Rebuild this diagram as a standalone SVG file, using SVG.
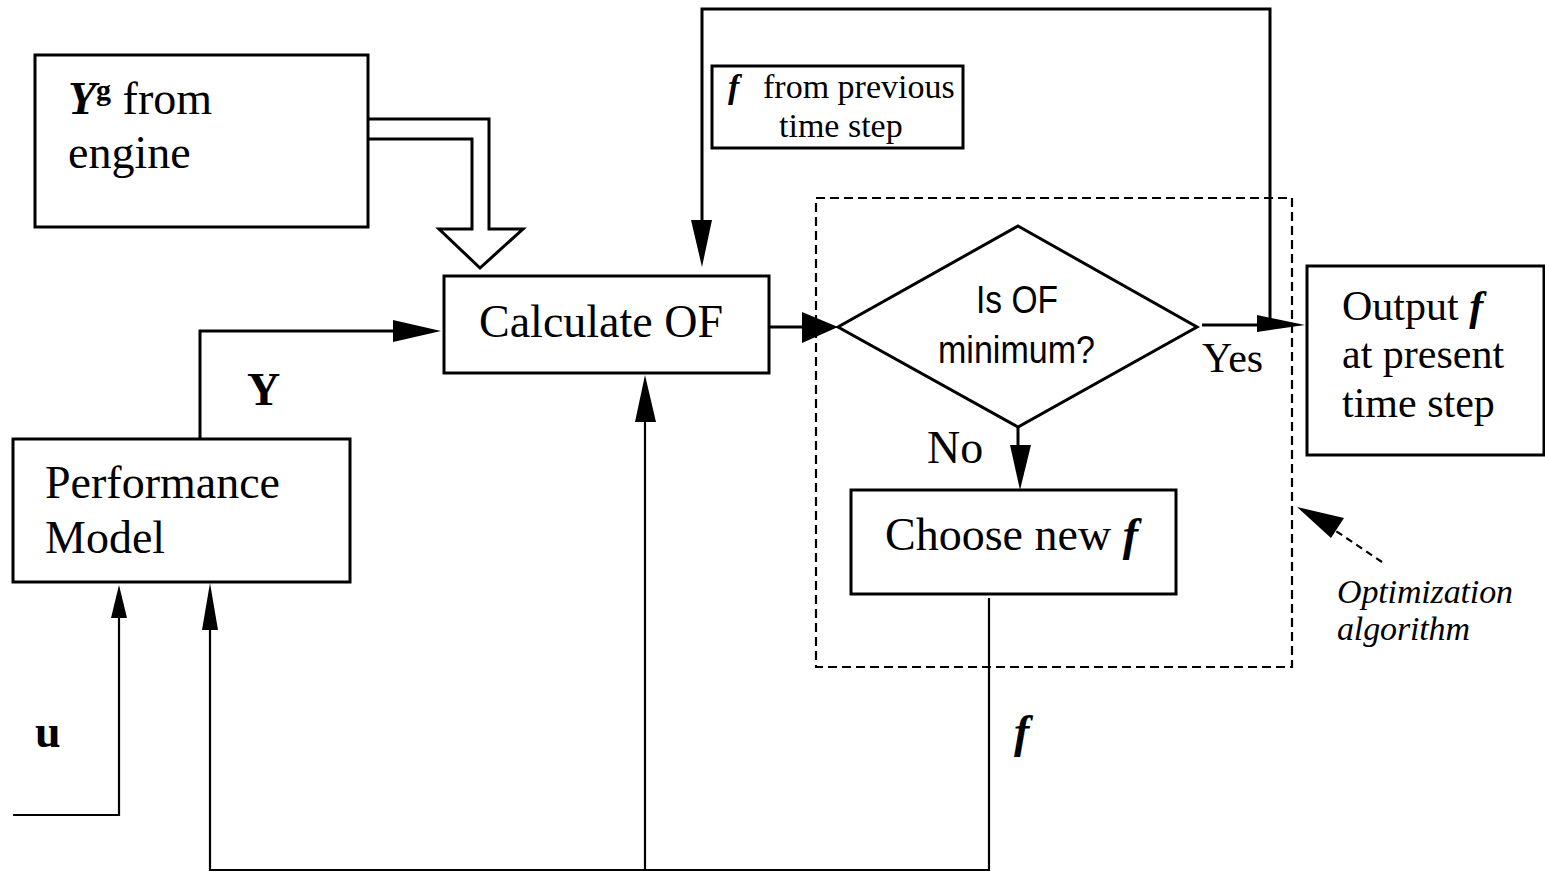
<svg xmlns="http://www.w3.org/2000/svg" width="1545" height="871" viewBox="0 0 1545 871">
<style>
  .box { fill: #fff; stroke: #000; stroke-width: 3; }
  .ln { fill: none; stroke: #000; stroke-width: 3; }
  .thin { fill: none; stroke: #000; stroke-width: 2.2; }
  .dash { fill: none; stroke: #000; stroke-width: 2.2; stroke-dasharray: 9 5; }
  .ah { fill: #000; stroke: none; }
  .t { font-family: "Liberation Serif", "Times New Roman", serif; font-size: 46px; fill: #000; }
  .tm { font-family: "Liberation Serif", "Times New Roman", serif; font-size: 42px; fill: #000; }
  .ts { font-family: "Liberation Serif", "Times New Roman", serif; font-size: 34px; fill: #000; }
  .bi { font-weight: bold; font-style: italic; }
  .b { font-weight: bold; }
  .it { font-style: italic; }
  .sans { font-family: "Liberation Sans", Arial, sans-serif; font-size: 38px; fill: #000; }
</style>

<g id="connectors">
  <!-- hollow double arrow from Y^g box -->
  <path class="ln" d="M368,119 H489 V229 H523 L480,268 L439,229 H472 V139 H368" stroke-linejoin="miter"/>
  <!-- Y from performance model to calculate OF -->
  <path class="ln" d="M200,439 V331 H400"/>
  <polygon class="ah" points="393,320 441,331 393,342"/>
  <!-- Calculate OF to diamond -->
  <path class="ln" d="M769,327 H808"/>
  <polygon class="ah" points="802,312 838,327 802,343"/>
  <!-- Yes branch to output -->
  <path class="ln" d="M1202,325 H1262"/>
  <polygon class="ah" points="1257,315 1305,325 1257,332"/>
  <!-- loop from yes line back to calculate OF top -->
  <path class="ln" d="M1270,320 V9 H702 V225"/>
  <polygon class="ah" points="691,220 712,220 702,267"/>
  <!-- No branch -->
  <path class="ln" d="M1018,427 V450"/>
  <polygon class="ah" points="1010,445 1031,445 1020,490"/>
  <!-- f from choose new f down, along bottom -->
  <path class="thin" d="M989,598 V870 H210 V625"/>
  <polygon class="ah" points="202,630 218,630 210,583"/>
  <!-- branch up to calculate OF bottom -->
  <path class="thin" d="M645,870 V415"/>
  <polygon class="ah" points="635,422 656,422 645,375"/>
  <!-- u input -->
  <path class="thin" d="M13,815 H119 V612"/>
  <polygon class="ah" points="111,618 127,618 119,585"/>
  <!-- dashed pointer to optimization box -->
  <path class="thin" d="M1382,562 L1330,527" stroke-dasharray="7 5"/>
  <polygon class="ah" points="1297,507 1344,518 1331,538"/>
</g>

<g id="optimization-box">
  <rect class="dash" x="816" y="198" width="476" height="469"/>
</g>

<g id="yg-box">
  <rect class="box" x="35" y="55" width="333" height="172"/>
  <text class="t" x="68" y="114"><tspan class="bi">Y</tspan><tspan font-size="30" dy="-14" class="b">g</tspan><tspan dy="14"> from</tspan></text>
  <text class="t" x="68" y="168">engine</text>
</g>

<g id="prev-f-box">
  <rect class="box" x="712" y="66" width="251" height="82"/>
  <text class="ts" x="728" y="98"><tspan class="bi">f</tspan><tspan x="763">from previous</tspan></text>
  <text class="ts" x="779" y="137">time step</text>
</g>

<g id="calc-of">
  <rect class="box" x="444" y="276" width="325" height="97"/>
  <text class="t" x="601" y="337" text-anchor="middle">Calculate OF</text>
</g>

<g id="perf-model">
  <rect class="box" x="13" y="439" width="337" height="143"/>
  <text class="t" x="45" y="498">Performance</text>
  <text class="t" x="45" y="553">Model</text>
</g>

<g id="decision">
  <polygon class="box" points="1018,226 1197,327 1018,427 838,327"/>
  <text class="sans" x="976" y="313" textLength="82" lengthAdjust="spacingAndGlyphs">Is OF</text>
  <text class="sans" x="938" y="363" textLength="157" lengthAdjust="spacingAndGlyphs">minimum?</text>
</g>

<g id="choose-new-f">
  <rect class="box" x="851" y="490" width="325" height="104"/>
  <text class="t" x="885" y="550">Choose new <tspan class="bi">f</tspan></text>
</g>

<g id="output-box">
  <rect class="box" x="1307" y="266" width="237" height="189"/>
  <text class="tm" x="1342" y="320">Output <tspan class="bi">f</tspan></text>
  <text class="tm" x="1342" y="368">at present</text>
  <text class="tm" x="1342" y="417">time step</text>
</g>

<g id="labels">
  <text class="t b" x="247" y="405">Y</text>
  <text class="t b" x="35" y="747">u</text>
  <text class="t bi" x="1014" y="747">f</text>
  <text class="t" x="927" y="463">No</text>
  <text class="tm" x="1202" y="372">Yes</text>
  <text class="ts it" x="1337" y="603" textLength="176">Optimization</text>
  <text class="ts it" x="1337" y="640" textLength="133">algorithm</text>
</g>
</svg>
